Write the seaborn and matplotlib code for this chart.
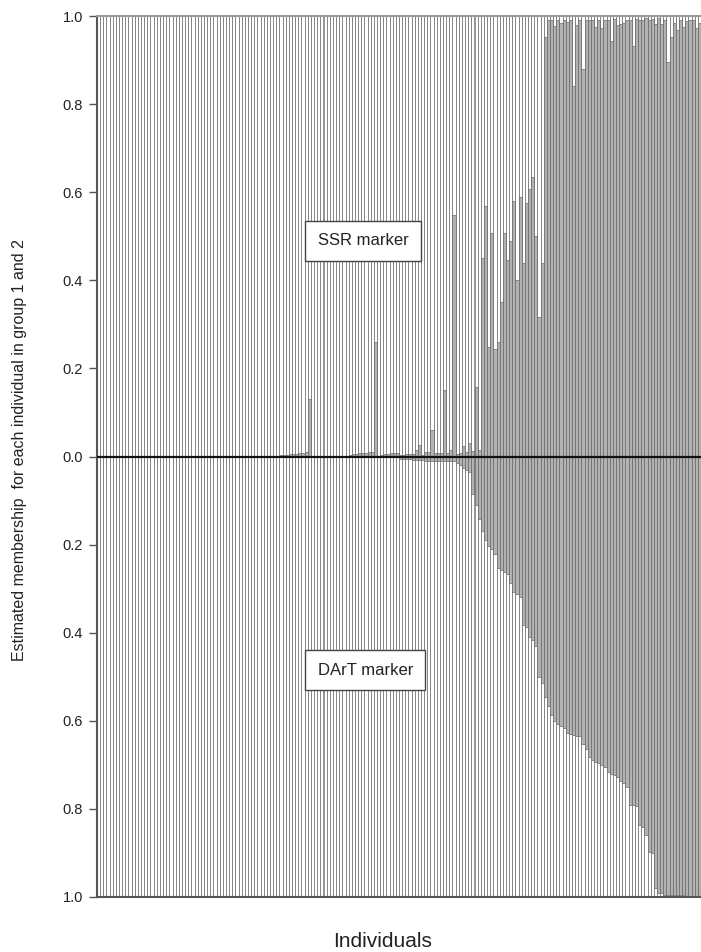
import numpy as np
import pandas as pd
import matplotlib
matplotlib.use("Agg")
import matplotlib.pyplot as plt
import seaborn as sns

sns.set_theme(style="white")
plt.rcParams["font.family"] = ["Liberation Sans", "DejaVu Sans"]

# Estimated membership in group 2 for each individual (SSR marker, upper panel)
ssr_group2 = [
    0.0, 0.0, 0.0, 0.0, 0.0, 0.0, 0.0, 0.0, 0.0, 0.0,
    0.0, 0.0, 0.0, 0.0, 0.0, 0.0, 0.0, 0.0, 0.0, 0.0,
    0.0, 0.0, 0.0, 0.0, 0.0, 0.0, 0.0, 0.0, 0.0, 0.0,
    0.0, 0.0, 0.0, 0.0, 0.0, 0.0, 0.0, 0.0, 0.0, 0.0,
    0.0, 0.0, 0.0, 0.0, 0.0, 0.0, 0.0, 0.0, 0.0, 0.0,
    0.0, 0.0, 0.0, 0.0, 0.0, 0.0, 0.0, 0.0,
    0.003, 0.004, 0.004, 0.005, 0.005, 0.006, 0.007, 0.008, 0.010,
    0.130,
    0.001, 0.001, 0.001, 0.001, 0.001, 0.001, 0.001, 0.001, 0.001, 0.001, 0.001, 0.001,
    0.004, 0.005, 0.006, 0.007, 0.008, 0.009, 0.010, 0.011,
    0.260,
    0.002, 0.003, 0.005, 0.006, 0.007, 0.007, 0.008, 0.004, 0.004, 0.005, 0.005, 0.006,
    0.014, 0.027, 0.004, 0.010, 0.010, 0.060, 0.008, 0.008, 0.008, 0.150,
    0.008, 0.014, 0.548, 0.005, 0.007, 0.023, 0.010, 0.030, 0.012, 0.157, 0.015,
    0.450, 0.568, 0.248, 0.507, 0.243, 0.260, 0.350, 0.507, 0.447, 0.490,
    0.580, 0.400, 0.590, 0.440, 0.576, 0.607, 0.634, 0.500, 0.316, 0.440,
    0.952,
    0.990, 0.990, 0.977, 0.990, 0.985, 0.990, 0.987, 0.990, 0.840, 0.980,
    0.990, 0.880, 0.992, 0.992, 0.990, 0.975, 0.990, 0.972, 0.990, 0.990,
    0.944, 0.994, 0.980, 0.982, 0.985, 0.990, 0.990, 0.933, 0.994, 0.992,
    0.990, 0.995, 0.990, 0.994, 0.982, 0.995, 0.982, 0.990, 0.896, 0.952,
    0.983, 0.968, 0.990, 0.976, 0.988, 0.990, 0.991, 0.972,
    0.985,
]

# Estimated membership in group 2 for each individual (DArT marker, lower panel)
dart_group2 = [
    0.001, 0.001, 0.001, 0.001, 0.001, 0.001, 0.001, 0.001, 0.001, 0.001,
    0.001, 0.001, 0.001, 0.001, 0.001, 0.001, 0.001, 0.001, 0.001, 0.001,
    0.001, 0.001, 0.001, 0.001, 0.001, 0.001, 0.001, 0.001, 0.001, 0.001,
    0.001, 0.001, 0.001, 0.001, 0.001, 0.001, 0.001, 0.001, 0.001, 0.001,
    0.001, 0.001, 0.001, 0.001, 0.001, 0.001, 0.001, 0.001, 0.001, 0.001,
    0.001, 0.001, 0.001, 0.001, 0.001, 0.001, 0.001, 0.001, 0.001, 0.001,
    0.001,
    0.002, 0.002, 0.002, 0.002, 0.002, 0.002, 0.002, 0.002, 0.002, 0.002,
    0.002, 0.002, 0.002, 0.002, 0.002, 0.002, 0.002, 0.002, 0.002, 0.002,
    0.002, 0.002, 0.002, 0.002, 0.002, 0.002, 0.002, 0.002, 0.002, 0.002,
    0.002, 0.002, 0.002, 0.002, 0.002,
    0.005, 0.005, 0.006, 0.006, 0.007, 0.007, 0.008, 0.008,
    0.011, 0.011, 0.011, 0.011, 0.011, 0.011, 0.011, 0.011, 0.011, 0.011,
    0.015, 0.020, 0.025, 0.030, 0.036, 0.086, 0.109, 0.143, 0.170, 0.190,
    0.204, 0.209, 0.222, 0.252, 0.258, 0.263, 0.266, 0.287, 0.308, 0.313,
    0.319, 0.383, 0.388, 0.410, 0.417, 0.431, 0.500, 0.515, 0.546, 0.567,
    0.587, 0.600, 0.608, 0.612, 0.617, 0.628, 0.630, 0.633, 0.634, 0.635,
    0.653, 0.665, 0.682, 0.689, 0.693, 0.696, 0.701, 0.705, 0.716, 0.720,
    0.724, 0.727, 0.736, 0.742, 0.750, 0.792, 0.792, 0.794, 0.837, 0.842,
    0.859, 0.897, 0.900, 0.980, 0.990, 0.992, 0.995, 0.995, 0.995, 0.995,
    0.995, 0.995, 0.995, 0.997, 0.997, 0.997, 0.997, 0.997,
]

y_ticks = [-1.0, -0.8, -0.6, -0.4, -0.2, 0.0, 0.2, 0.4, 0.6, 0.8, 1.0]

n = len(ssr_group2)
df = pd.DataFrame({
    "individual": np.arange(1, n + 1),
    "ssr_g2": ssr_group2,
    "dart_g2": dart_group2,
})
df["ssr_g1"] = 1.0 - df["ssr_g2"]
df["dart_g1"] = 1.0 - df["dart_g2"]

GRAY = "#b2b2b2"
EDGE = "#6a6a6a"

W, H = 701, 952
fig = plt.figure(figsize=(W / 100, H / 100), dpi=100)
ax = fig.add_axes([97 / W, 55 / H, 604 / W, 881 / H])

bar_kw = dict(width=1.0, saturation=1, errorbar=None, edgecolor=EDGE,
              linewidth=0.5, ax=ax)

# upper panel: SSR (group 1 white stacked above group 2 gray)
sns.barplot(x=df["individual"], y=df["ssr_g2"] + df["ssr_g1"], color="white", **bar_kw)
sns.barplot(x=df["individual"], y=df["ssr_g2"], color=GRAY, **bar_kw)
# lower panel: DArT drawn downward
sns.barplot(x=df["individual"], y=-(df["dart_g2"] + df["dart_g1"]), color="white", **bar_kw)
sns.barplot(x=df["individual"], y=-df["dart_g2"], color=GRAY, **bar_kw)

ax.axhline(0, color="#111111", lw=1.6, zorder=5)

ax.set_xlim(-0.5, n - 0.5)
ax.set_ylim(-1, 1)
ax.set_xticks([])
ax.set_yticks(y_ticks)
ax.set_yticklabels([f"{abs(t):.1f}" for t in y_ticks])
ax.set_xlabel("")
ax.set_ylabel("")

for side in ["left", "bottom"]:
    ax.spines[side].set_color("#555555")
    ax.spines[side].set_linewidth(1.5)
ax.spines["top"].set_color("#9a9a9a")
ax.spines["top"].set_linewidth(1.5)
ax.spines["right"].set_visible(False)

ax.tick_params(axis="y", direction="out", length=6, width=1, color="#555555",
               labelsize=10.5, labelcolor="#222222", pad=4, left=True)

box = dict(boxstyle="square,pad=0.75", facecolor="white", edgecolor="#444444", lw=1)
ax.text(69.6, 0.49, "SSR marker", ha="left", va="center", fontsize=12,
        color="#222222", bbox=box, zorder=6)
ax.text(69.6, -0.485, "DArT marker", ha="left", va="center", fontsize=12,
        color="#222222", bbox=box, zorder=6)

fig.text(20 / W, 1 - 450 / H, "Estimated membership  for each individual in group 1 and 2",
         rotation=90, ha="center", va="center", fontsize=11.5, color="#222222")
fig.text(383 / W, 5 / H, "Individuals", ha="center", va="baseline",
         fontsize=15, color="#222222")

fig.savefig("out.png", dpi=100)
